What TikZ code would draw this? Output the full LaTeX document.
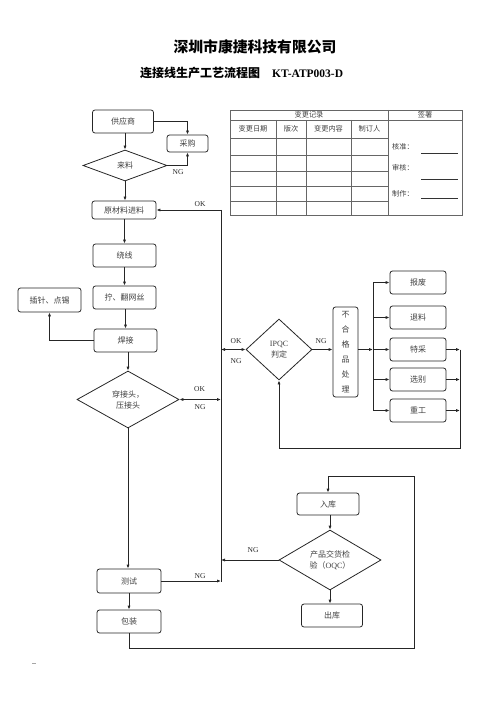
\documentclass[tikz,border=0pt]{standalone}
\usepackage{fontspec}
\setmainfont{Liberation Serif}
\newfontfamily\cjk{Noto Sans CJK SC}
\usetikzlibrary{shapes.geometric,arrows.meta}
\begin{document}
\begin{tikzpicture}[x=1pt,y=-1pt,
 box/.style={draw=black!85, rounded corners=2.5pt, line width=0.8pt, inner sep=0pt,
   font=\cjk\fontsize{8}{9}\selectfont, text=black!75, align=center},
 dia/.style={draw=black!85, diamond, line width=0.8pt, inner sep=0pt,
   font=\cjk\fontsize{8}{11}\selectfont, text=black!75, align=center},
 arr/.style={-{Latex[length=4pt,width=3.2pt]}, line width=0.8pt, draw=black!85},
 darr/.style={{Latex[length=4pt,width=3.2pt]}-{Latex[length=4pt,width=3.2pt]}, line width=0.8pt, draw=black!85},
 ln/.style={line width=0.8pt, draw=black!85},
 lab/.style={font=\fontsize{7.5}{8}\selectfont, text=black!85, inner sep=0pt},
 tline/.style={line width=0.6pt, draw=black!60},
 ttxt/.style={font=\cjk\fontsize{7.2}{8}\selectfont, text=black!75, inner sep=0pt},
]
\useasboundingbox (0,0) rectangle (500,708);

% titles
\node[font=\cjk\bfseries\fontsize{14.8}{16}\selectfont, inner sep=0pt] (title) at (255,47) {深圳市康捷科技有限公司};
\node[inner sep=0pt, anchor=west] (sub) at (140,73) {\cjk\bfseries\fontsize{12}{13}\selectfont 连接线生产工艺流程图\hspace{12pt}\rmfamily\bfseries\fontsize{11.5}{13}\selectfont KT-ATP003-D};

% table
\draw[tline] (230,110) rectangle (462,215);
\draw[tline] (230,120) -- (462,120);
\draw[tline] (388,110) -- (388,215);
\draw[tline] (230,138) -- (388,138);
\foreach \xx in {276,306,351} \draw[tline] (\xx,120) -- (\xx,215);
\foreach \yy in {155.7,171,186.7,201.7} \draw[tline] (230,\yy) -- (388,\yy);
\node[ttxt] (th1) at (309,115) {变更记录};
\node[ttxt] (th2) at (425,115) {签署};
\node[ttxt] (tc1) at (253,129) {变更日期};
\node[ttxt] (tc2) at (291,129) {版次};
\node[ttxt] (tc3) at (328.5,129) {变更内容};
\node[ttxt] (tc4) at (369.5,129) {制订人};
\node[ttxt, anchor=west] (s1) at (392,147) {核准：};
\node[ttxt, anchor=west] (s2) at (392,168) {审核：};
\node[ttxt, anchor=west] (s3) at (392,194) {制作：};
\draw[line width=0.7pt, black!80] (421,153) -- (458,153);
\draw[line width=0.7pt, black!80] (421,179) -- (458,179);
\draw[line width=0.7pt, black!80] (421,198) -- (458,198);

% left column
\node[box, minimum width=61pt, minimum height=23pt] (gys) at (123,121.5) {供应商};
\node[box, minimum width=41pt, minimum height=17pt] (cg) at (187.5,143.5) {采购};
\node[dia, minimum width=84pt, minimum height=31pt] (ll) at (125,165.5) {来料};
\node[box, minimum width=64pt, minimum height=18pt] (ycl) at (124,210) {原材料进料};
\node[box, minimum width=63pt, minimum height=23pt] (rx) at (124.5,255.5) {绕线};
\node[box, minimum width=63pt, minimum height=23pt] (nw) at (124.5,297.5) {拧、翻网丝};
\node[box, minimum width=63pt, minimum height=24pt] (cz) at (49.5,300) {插针、点锡};
\node[box, minimum width=63pt, minimum height=23pt] (hj) at (125.5,340.5) {焊接};
\node[dia, minimum width=102pt, minimum height=57pt] (cjt) at (128,399.5) {穿接头，\\压接头};
\node[box, minimum width=64pt, minimum height=24pt] (cs) at (129,581) {测试};
\node[box, minimum width=64pt, minimum height=23pt] (bz) at (129,621.5) {包装};

% right lower
\node[box, minimum width=62pt, minimum height=22pt] (rk) at (328,504) {入库};
\node[dia, minimum width=102pt, minimum height=56pt] (oqc) at (330,560) {产品交货检\\验（{\rmfamily OQC}）};
\node[box, minimum width=61pt, minimum height=23pt] (ck) at (332,615.5) {出库};

% IPQC part
\node[dia, minimum width=66pt, minimum height=61pt] (ipqc) at (279,349.5) {{\rmfamily IPQC}\\判定};
\node[box, minimum width=25pt, minimum height=90pt, font=\cjk\fontsize{8}{15}\selectfont] (bhg) at (345.5,352) {不\\合\\格\\品\\处\\理};
\node[box, minimum width=56pt, minimum height=23pt] (bf) at (418,282.5) {报废};
\node[box, minimum width=56pt, minimum height=23pt] (tl) at (418,317.5) {退料};
\node[box, minimum width=56pt, minimum height=23pt] (tcai) at (418,349.5) {特采};
\node[box, minimum width=56pt, minimum height=23pt] (xb) at (418,379.5) {选别};
\node[box, minimum width=56pt, minimum height=23pt] (cg2) at (418,410.5) {重工};

% coordinates
\coordinate (Ltop) at (221,210);
\coordinate (Lbot) at (221,582);
\coordinate (R1) at (414,648);
\coordinate (R2) at (414,476);
\coordinate (bus) at (373,349.5);
\coordinate (rbus) at (460,349.5);
\coordinate (rb) at (460,448);

% connectors top
\draw[arr] (gys.east) -| (cg.north);
\draw[arr] (gys.south -| ll.north) -- (ll.north);
\draw[arr] (ll.east) -| (cg.south);
\node[lab] (ng1) at (178,172.5) {NG};
\draw[arr] (ll.south) -- (ll.south |- ycl.north);
\draw[ln] (Ltop) -- (Lbot);
\draw[arr] (Ltop) -- (ycl.east);
\node[lab] (ok1) at (200,204.5) {OK};
\draw[arr] (ycl.south -| rx.north) -- (rx.north);
\draw[arr] (rx.south) -- (nw.north);
\draw[arr] (nw.south -| hj.north) -- (hj.north);
\draw[arr] (hj.west) -| (cz.south);
\draw[arr] (hj.south -| cjt.north) -- (cjt.north);
\draw[darr] (cjt.east) -- (cjt.east -| Ltop);
\node[lab] (ok2) at (199.5,389.5) {OK};
\node[lab] (ng2) at (200,407.5) {NG};
\draw[arr] (cjt.south) -- (cjt.south |- cs.north);
\draw[arr] (cs.south) -- (bz.north);
\draw[arr] (cs.east) -- (cs.east -| Lbot);
\node[lab] (ng3) at (200,576) {NG};
\draw[arr] (bz.south) |- (R1) -- (R2) -| (rk.north);
\draw[arr] (rk.south -| oqc.north) -- (oqc.north);
\draw[arr] (oqc.south) -- (oqc.south |- ck.north);
\draw[arr] (oqc.west) -- (oqc.west -| Lbot);
\node[lab] (ng4) at (253,550) {NG};

% IPQC connectors
\draw[darr] (ipqc.west -| Ltop) -- (ipqc.west);
\node[lab] (ok3) at (236,341) {OK};
\node[lab] (ng5) at (236,361) {NG};
\draw[arr] (ipqc.east) -- (ipqc.east -| bhg.west);
\node[lab] (ng6) at (321,341) {NG};
\draw[arr] (ipqc.east -| bhg.east) -- (bus);
\draw[ln] (bus |- bf.west) -- (bus |- cg2.west);
\draw[arr] (bus |- bf.west) -- (bf.west);
\draw[arr] (bus |- tl.west) -- (tl.west);
\draw[arr] (bus |- tcai.west) -- (tcai.west);
\draw[arr] (bus |- xb.west) -- (xb.west);
\draw[arr] (bus |- cg2.west) -- (cg2.west);
\draw[arr] (tcai.east) -- (tcai.east -| rbus);
\draw[arr] (xb.east) -- (xb.east -| rbus);
\draw[arr] (cg2.east) -- (cg2.east -| rbus);
\draw[arr] (rbus) -- (rb) -| (ipqc.south);

% faint mark
\draw[black!35, line width=1pt] (32,663.5) -- (36,663.5);
\end{tikzpicture}
\end{document}
